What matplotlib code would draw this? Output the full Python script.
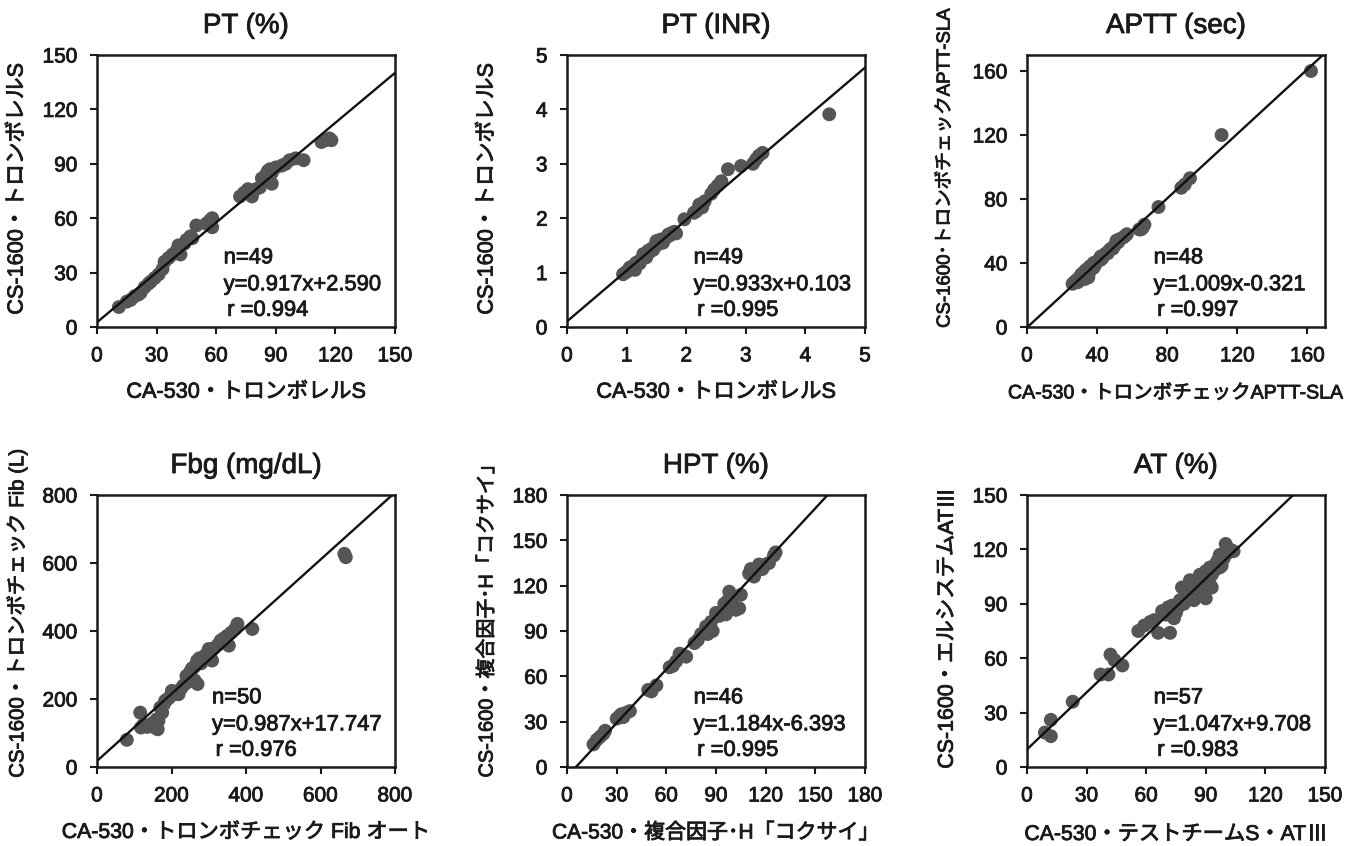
import matplotlib
matplotlib.use('Agg')
import matplotlib.pyplot as plt
import matplotlib.patheffects as pe
import numpy as np

plt.rcParams['font.family'] = ['Liberation Sans', 'Noto Sans CJK JP']

# ---------------- data ----------------
titles = ['PT (%)', 'PT (INR)', 'APTT (sec)', 'Fbg (mg/dL)', 'HPT (%)', 'AT (%)']
xlabels = ['CA-530・トロンボレルS', 'CA-530・トロンボレルS', 'CA-530・トロンボチェックAPTT-SLA',
           'CA-530・トロンボチェック Fib オート', 'CA-530・複合因子･H「コクサイ」', 'CA-530・テストチームS・ATⅢ']
ylabels = ['CS-1600・トロンボレルS', 'CS-1600・トロンボレルS', 'CS-1600･トロンボチェックAPTT-SLA',
           'CS-1600・トロンボチェック Fib (L)', 'CS-1600・複合因子･H「コクサイ」', 'CS-1600・エルシステムATⅢ']
axis_max = [150, 5, 170, 800, 180, 150]
ticks = [[0, 30, 60, 90, 120, 150], [0, 1, 2, 3, 4, 5], [0, 40, 80, 120, 160],
         [0, 200, 400, 600, 800], [0, 30, 60, 90, 120, 150, 180], [0, 30, 60, 90, 120, 150]]
n_values = [49, 49, 48, 50, 46, 57]
slopes = [0.917, 0.933, 1.009, 0.987, 1.184, 1.047]
intercepts = [2.590, 0.103, -0.321, 17.747, -6.393, 9.708]
r_values = ['0.994', '0.995', '0.997', '0.976', '0.995', '0.983']

pt_x = [11, 15, 17, 19, 21, 22, 24, 26, 27, 29, 31, 33, 34, 36, 38, 40, 41, 42, 44, 45,
        47, 48, 50, 55, 57, 58, 58, 72, 74, 76, 78, 80, 82, 83, 85, 86, 87, 88, 88, 90,
        93, 95, 97, 100, 104, 113, 115, 117, 118]
pt_y = [11, 14, 15, 17, 18, 19, 22, 24, 25, 27, 29, 32, 36, 38, 40, 42, 45, 40, 46, 48,
        50, 49, 56, 57, 59, 60, 55, 72, 74, 76, 72, 76, 77, 82, 84, 86, 87, 79, 85, 88,
        89, 90, 92, 93, 92, 102, 103, 104, 103]

inr_x = [0.94, 0.98, 1.02, 1.05, 1.08, 1.1, 1.12, 1.16, 1.2, 1.22, 1.25, 1.28, 1.3, 1.33,
         1.36, 1.39, 1.42, 1.45, 1.48, 1.5, 1.53, 1.56, 1.58, 1.61, 1.64, 1.67, 1.7, 1.72,
         1.76, 1.8, 1.83, 1.97, 2.13, 2.17, 2.22, 2.27, 2.31, 2.42, 2.47, 2.53, 2.59, 2.7,
         2.92, 3.12, 3.17, 3.22, 3.28, 4.4, 1.14]
inr_y = [0.97, 1.0, 1.03, 1.09, 1.07, 1.12, 1.1, 1.18, 1.2, 1.17, 1.25, 1.34, 1.3, 1.28,
         1.4, 1.38, 1.44, 1.42, 1.5, 1.58, 1.52, 1.6, 1.61, 1.55, 1.62, 1.65, 1.7, 1.68,
         1.73, 1.75, 1.72, 1.98, 2.1, 2.13, 2.25, 2.2, 2.31, 2.45, 2.53, 2.6, 2.68, 2.9,
         2.96, 3.0, 3.08, 3.15, 3.2, 3.91, 1.05]

aptt_x = [26, 27, 28, 29, 30, 31, 31, 32, 33, 34, 34, 35, 36, 36, 37, 38, 38, 39, 40, 41,
          42, 42, 43, 44, 45, 46, 47, 48, 49, 50, 51, 52, 53, 55, 56, 57, 64, 65, 67, 66,
          75, 88, 90, 93, 111, 162, 29, 33]
aptt_y = [27, 28, 29, 30, 31, 30, 33, 32, 35, 33, 36, 31, 35, 38, 37, 37, 40, 39, 41, 42,
          42, 44, 43, 45, 46, 46, 48, 49, 49, 51, 54, 53, 55, 56, 57, 58, 61, 61, 64, 62,
          75, 87, 89, 93, 120, 160, 28, 30]

fbg_x = [80, 116, 118, 125, 135, 140, 150, 155, 160, 163, 165, 170, 175, 180, 183, 190,
         195, 201, 210, 219, 225, 232, 240, 245, 250, 255, 260, 265, 269, 270, 275, 280,
         287, 292, 300, 305, 309, 315, 325, 332, 340, 350, 354, 360, 370, 377, 417, 664,
         668, 262]
fbg_y = [80, 160, 116, 125, 118, 122, 130, 116, 140, 111, 136, 175, 160, 185, 195, 200,
         205, 224, 215, 214, 230, 240, 268, 250, 280, 290, 293, 300, 313, 244, 320, 305,
         322, 330, 347, 335, 313, 350, 360, 372, 378, 386, 357, 395, 405, 421, 406, 627,
         617, 255]

hpt_x = [16, 18, 20, 22, 23, 30, 32, 34, 36, 38, 49, 51, 54, 62, 64, 68, 70, 72, 77, 79,
         81, 84, 85, 87, 90, 92, 95, 96, 97, 98, 100, 104, 105, 110, 111, 113, 116, 118,
         120, 122, 125, 126, 33, 66, 88, 102]
hpt_y = [15, 18, 20, 22, 24, 32, 34, 33, 36, 37, 51, 50, 54, 66, 67, 75, 74, 73, 82, 84,
         88, 93, 88, 96, 102, 100, 108, 101, 110, 116, 112, 105, 114, 128, 131, 126, 134,
         131, 134, 135, 140, 142, 35, 70, 90, 104]

at_x = [9, 12, 12, 23, 37, 41, 42, 44, 48, 56, 59, 62, 64, 66, 68, 70, 72, 73, 74, 75,
        76, 77, 78, 79, 80, 81, 82, 83, 84, 85, 86, 87, 87, 88, 89, 90, 90, 91, 92, 92,
        93, 94, 95, 96, 97, 97, 98, 99, 100, 101, 102, 104, 71, 83, 86, 89, 93]
at_y = [19, 17, 26, 36, 51, 51, 62, 59, 56, 75, 78, 80, 81, 74, 86, 84, 74, 89, 82, 85,
        88, 92, 99, 90, 96, 98, 103, 95, 92, 100, 97, 98, 106, 101, 104, 93, 108, 103, 110,
        101, 106, 108, 112, 114, 110, 117, 111, 115, 123, 118, 120, 119, 88, 100, 94, 96, 99]

series_x = [pt_x, inr_x, aptt_x, fbg_x, hpt_x, at_x]
series_y = [pt_y, inr_y, aptt_y, fbg_y, hpt_y, at_y]

# ---------------- layout (pixels) ----------------
W, H = 1358, 846
lefts = [97, 567, 1027]
tops = [55, 495]
aw, ah = 298, 272
ylabel_x = [17, 487, 945]
ylabel_cy = [189, 189, 168, 614, 616, 628]
xlabel_fs = [15.6, 15.6, 14.1, 15.3, 15.1, 15.3]
ylabel_fs = [15.6, 15.6, 13.4, 14.7, 14.4, 15.4]

txt_color = '#1a1a1a'
thick = [pe.withStroke(linewidth=0.6, foreground=txt_color)]
cjk_family = ['Noto Sans CJK JP']

fig = plt.figure(figsize=(W / 100, H / 100), dpi=100)
renderer = fig.canvas.get_renderer()
dot_color = '#555555'


def label(text, cx, cy, fs, vertical):
    """Draw a (possibly rotated) label centred on pixel (cx, cy); a trailing
    roman numeral is drawn with the CJK font so it keeps its serif bars."""
    rot = 90 if vertical else 0
    kw = dict(fontsize=fs, rotation=rot, color=txt_color, path_effects=thick,
              rotation_mode='anchor')
    if not text.endswith('Ⅲ'):
        fig.text(cx / W, 1 - cy / H, text, ha='center', va='center', rotation=rot,
                 fontsize=fs, color=txt_color, path_effects=thick)
        return
    main, tail = text[:-1], text[-1]
    t1 = fig.text(0, 0, main, ha='left', va='baseline', **kw)
    t2 = fig.text(0, 0, tail, ha='left', va='baseline', family=cjk_family, **kw)
    b1 = t1.get_window_extent(renderer)
    b2 = t2.get_window_extent(renderer)
    if not vertical:
        total = b1.width + b2.width
        x0 = cx - total / 2
        base = cy + 0.36 * fs * 100 / 72  # baseline below the centre
        t1.set_position((x0 / W, 1 - base / H))
        t2.set_position(((x0 + b1.width) / W, 1 - base / H))
    else:
        total = b1.height + b2.height
        y0 = cy + total / 2  # bottom (pixel, from top)
        base = cx + 0.36 * fs * 100 / 72
        t1.set_position((base / W, 1 - y0 / H))
        t2.set_position((base / W, 1 - (y0 - b1.height) / H))


for i in range(6):
    row, col = divmod(i, 3)
    l, t = lefts[col], tops[row]
    ax = fig.add_axes([l / W, 1 - (t + ah) / H, aw / W, ah / H])
    m = axis_max[i]
    ax.scatter(series_x[i], series_y[i], s=100, c=dot_color, edgecolors='none', zorder=2)
    xs = np.array([0, m])
    ax.plot(xs, slopes[i] * xs + intercepts[i], color='#111111', lw=1.7, zorder=3)
    ax.set_xlim(0, m)
    ax.set_ylim(0, m)
    ax.set_xticks(ticks[i])
    ax.set_yticks(ticks[i])
    ax.tick_params(direction='out', length=5, width=1.5, labelsize=15, pad=9,
                   colors=txt_color, top=False, right=False)
    for lab in ax.get_xticklabels() + ax.get_yticklabels():
        lab.set_path_effects(thick)
    for sp in ax.spines.values():
        sp.set_linewidth(1.8)
        sp.set_color(txt_color)
    # annotation
    sign = '+' if intercepts[i] >= 0 else '-'
    eq = f'y={slopes[i]:.3f}x{sign}{abs(intercepts[i]):.3f}'
    tx = 0.425 if i != 3 else 0.386
    for yy, dx, s in [(0.234, 0, f'n={n_values[i]}'), (0.135, 0, eq),
                      (0.041, 0.012, f'r ={r_values[i]}')]:
        ax.text(tx + dx, yy, s, transform=ax.transAxes, fontsize=15.8,
                va='baseline', ha='left', color=txt_color, path_effects=thick)
    # titles and labels
    cx = l + aw / 2
    fig.text(cx / W, 1 - (t - 22) / H, titles[i], fontsize=20, ha='center', va='baseline',
             color=txt_color, path_effects=thick)
    fs = xlabel_fs[i]
    label(xlabels[i], cx, t + ah + 73 - 0.36 * fs * 100 / 72, fs, False)
    label(ylabels[i], ylabel_x[col], ylabel_cy[i], ylabel_fs[i], True)

fig.savefig('out.png', dpi=100, facecolor='white')
